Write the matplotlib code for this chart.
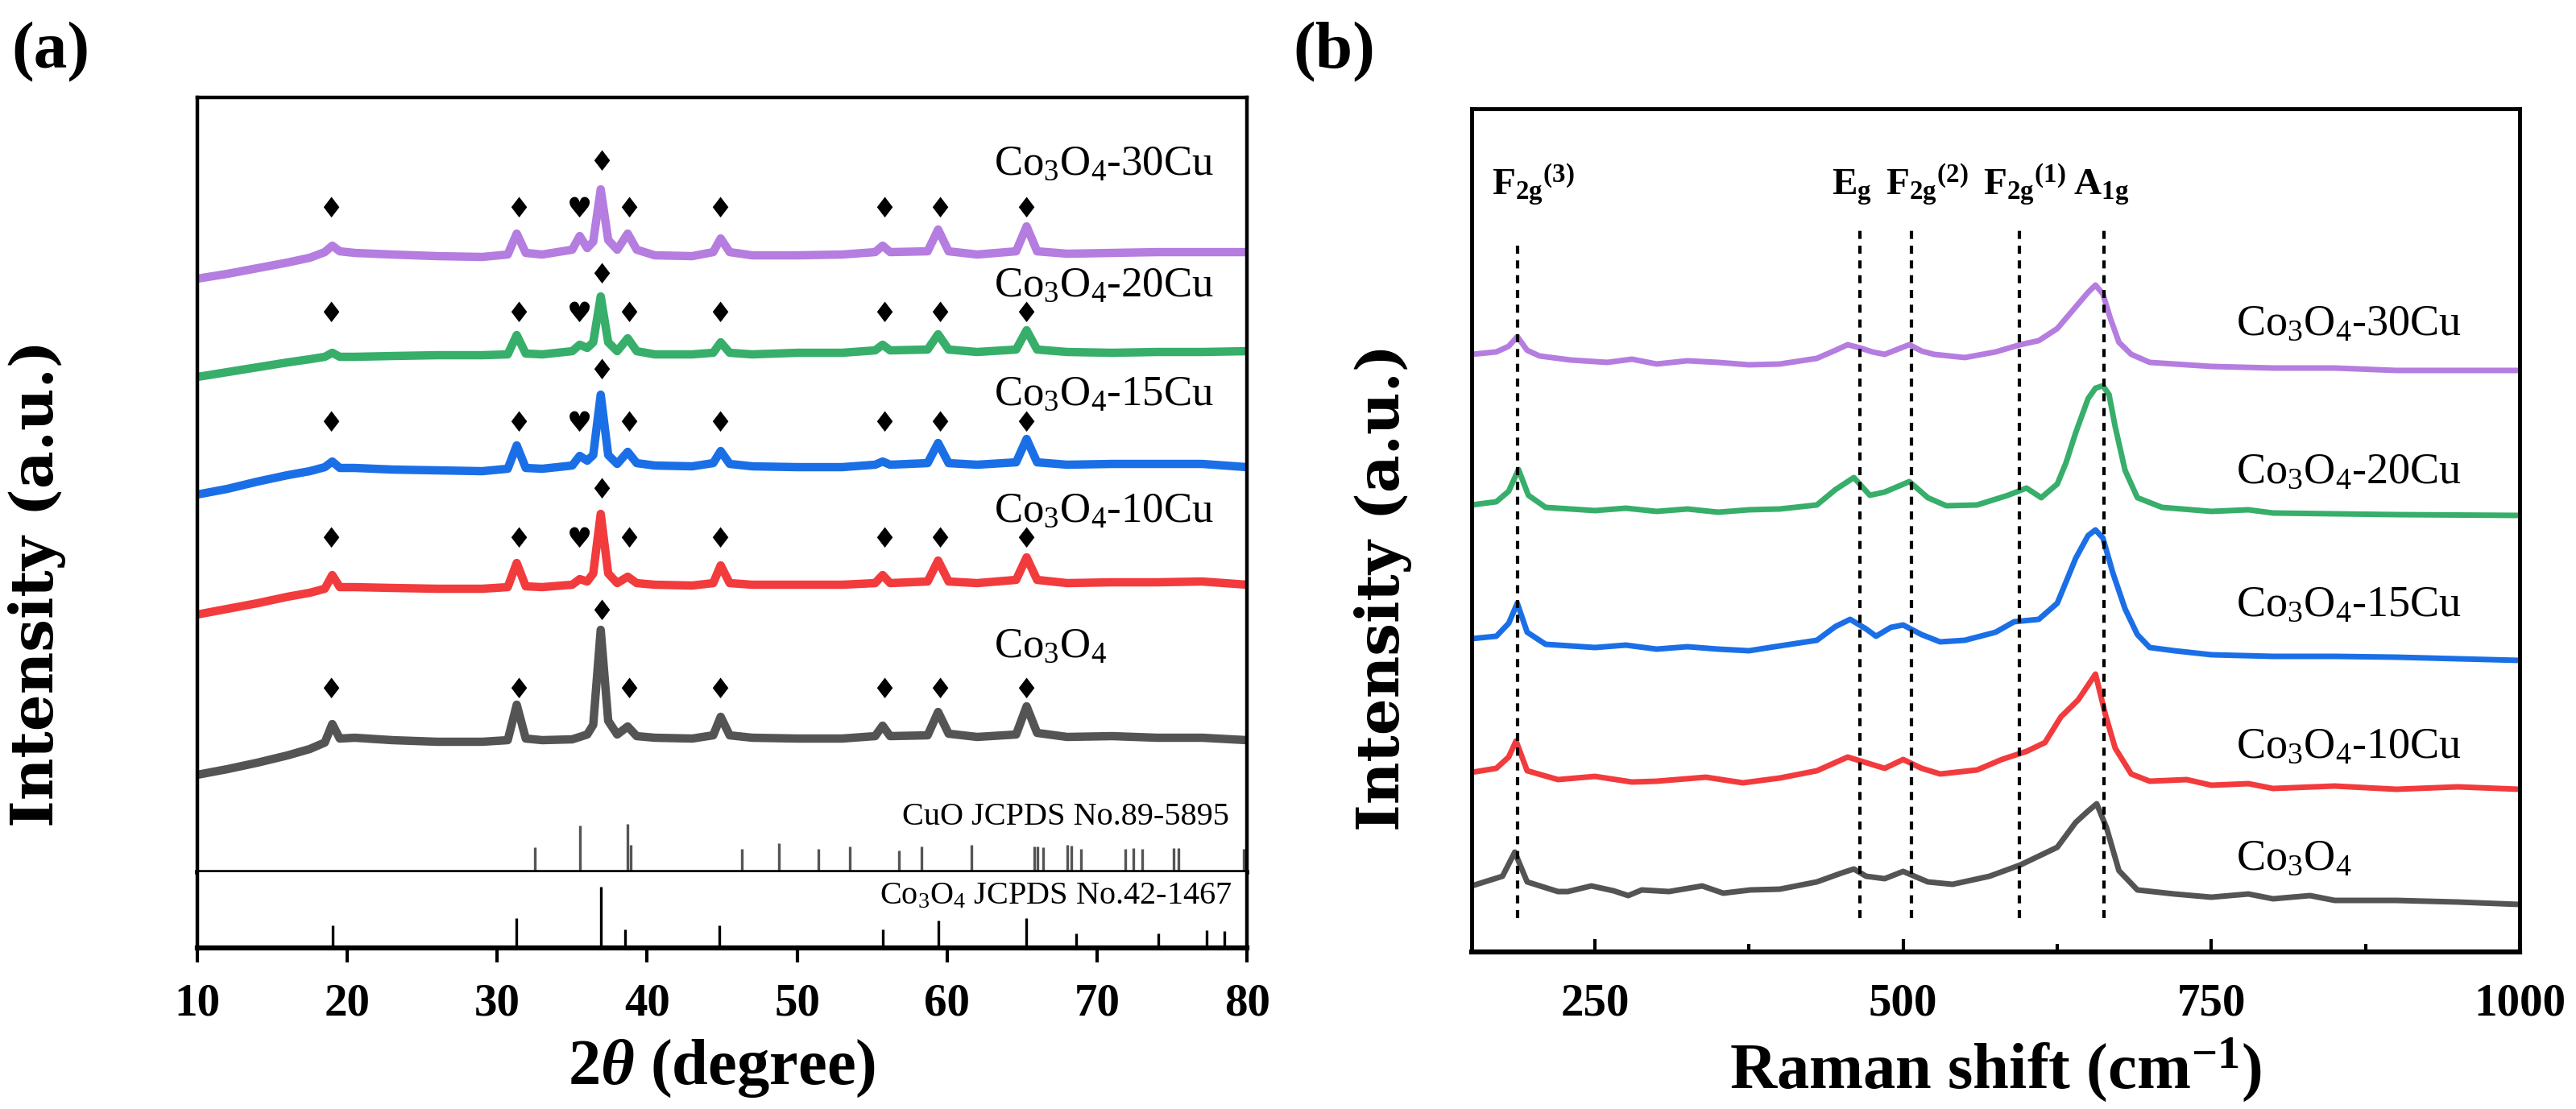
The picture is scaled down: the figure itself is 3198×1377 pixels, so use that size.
import matplotlib
matplotlib.use('Agg')
import matplotlib.pyplot as plt
from matplotlib.ticker import FixedLocator

# ---------------- (a) XRD ----------------
two_theta = [10, 12, 14, 16, 17.5, 18.5, 19.0, 19.5, 20.5, 23, 26, 29, 30.7, 31.3, 31.9, 33,
             35.0, 35.5, 36.0, 36.4, 36.9, 37.4, 38.0, 38.7, 39.3, 40.5, 43, 44.4, 44.9, 45.5,
             47, 50, 53, 55.2, 55.7, 56.2, 58.7, 59.4, 60.1, 62, 64.6, 65.3, 66.0, 68, 71, 74, 77, 80]

xrd_co3o4 = [121, 128, 136, 145, 153, 161, 184, 166, 167, 164, 162, 162, 164, 208, 166, 164,
             165, 168, 171, 183, 301, 188, 171, 181, 169, 167, 166, 170, 193, 170,
             167, 166, 166, 169, 182, 169, 170, 199, 172, 168, 171, 206, 173, 168, 169, 167, 167, 164]
xrd_10cu = [320, 327, 334, 342, 347, 352, 369, 354, 354, 353, 352, 352, 354, 384, 355, 354,
            357, 364, 361, 371, 445, 371, 359, 367, 359, 357, 356, 359, 381, 359,
            357, 357, 357, 359, 369, 359, 361, 387, 361, 359, 363, 391, 363, 359, 360, 360, 361, 357]
xrd_15cu = [469, 476, 485, 493, 498, 503, 510, 502, 502, 500, 499, 498, 501, 530, 502, 501,
            505, 517, 511, 518, 593, 518, 507, 522, 508, 505, 504, 508, 523, 507,
            504, 503, 503, 506, 510, 506, 508, 533, 508, 506, 509, 538, 509, 506, 507, 507, 507, 503]
xrd_20cu = [615, 621, 627, 633, 637, 640, 645, 640, 640, 641, 642, 642, 643, 667, 644, 643,
            647, 655, 651, 658, 715, 658, 647, 663, 647, 643, 643, 645, 658, 645,
            643, 645, 645, 648, 655, 648, 649, 668, 649, 646, 649, 673, 649, 646, 645, 646, 646, 647]
xrd_30cu = [737, 743, 750, 757, 763, 770, 778, 771, 769, 767, 765, 764, 767, 793, 769, 767,
            773, 790, 775, 783, 848, 785, 773, 793, 773, 766, 765, 770, 787, 770,
            766, 766, 767, 770, 778, 770, 771, 798, 771, 767, 771, 802, 771, 768, 769, 770, 770, 770]

sample_names = ['Co3O4', 'Co3O4-10Cu', 'Co3O4-15Cu', 'Co3O4-20Cu', 'Co3O4-30Cu']
sample_tex = [r'$\mathregular{Co_3O_4}$', r'$\mathregular{Co_3O_4}$-10Cu', r'$\mathregular{Co_3O_4}$-15Cu',
              r'$\mathregular{Co_3O_4}$-20Cu', r'$\mathregular{Co_3O_4}$-30Cu']
colors = ['#545454', '#f23b3d', '#1b6fe6', '#37ae6a', '#b47ddf']

xrd_label_y = [267, 435, 580, 715, 866]
marker_row_y = [226, 413, 557, 693, 823]
marker_top_y = [323, 474, 622, 741, 881]
diamond_pos = [18.9, 31.4, 38.8, 44.85, 55.8, 59.5, 65.25]
main_peak_pos = 36.95
heart_pos = 35.5

cuo_pos = [32.5, 35.5, 38.7, 38.9, 46.3, 48.8, 51.4, 53.5, 56.8, 58.3, 61.6, 65.8, 66.0, 66.4,
           68.0, 68.3, 68.9, 71.9, 72.4, 73.0, 75.1, 75.4, 79.8]
cuo_int = [31, 58, 60, 34, 29, 36, 29, 32, 27, 32, 34, 32, 32, 31,
           34, 33, 29, 29, 30, 29, 30, 30, 29]
co3o4_pos = [19.0, 31.25, 36.9, 38.5, 44.8, 55.7, 59.4, 65.3, 68.6, 74.1, 77.3, 78.5]
co3o4_int = [28, 37, 76, 23, 28, 23, 34, 37, 18, 18, 22, 21]

# ---------------- (b) Raman ----------------
raman_co3o4 = ([150, 175, 185, 195, 220, 228, 247, 265, 277, 288, 310, 337, 354, 376, 400, 430,
                450, 460, 470, 485, 500, 520, 540, 570, 595, 610, 625, 640, 650, 657, 665, 675,
                690, 720, 750, 780, 800, 830, 850, 900, 950, 1000],
               [82, 94, 124, 87, 75, 75, 82, 76, 70, 77, 75, 82, 73, 77, 78, 87,
                98, 103, 94, 91, 100, 87, 84, 94, 108, 119, 130, 161, 175, 184, 154, 101,
                77, 72, 68, 72, 66, 70, 64, 64, 62, 59])
raman_10cu = ([150, 170, 180, 186, 195, 220, 250, 280, 300, 340, 370, 400, 430, 455, 470, 485,
               500, 515, 530, 560, 580, 600, 615, 628, 642, 656, 664, 672, 685, 700, 730, 750,
               780, 800, 850, 900, 950, 1000],
              [223, 228, 242, 262, 225, 214, 218, 211, 212, 217, 210, 216, 225, 242, 235, 228,
               239, 228, 221, 226, 239, 249, 260, 292, 313, 345, 295, 253, 221, 212, 214, 207,
               209, 203, 206, 202, 205, 202])
raman_15cu = ([150, 170, 180, 187, 195, 210, 250, 275, 300, 325, 350, 375, 400, 430, 445, 457,
               470, 478, 490, 500, 515, 530, 550, 575, 590, 610, 625, 640, 650, 656, 662, 670,
               680, 690, 700, 720, 750, 800, 850, 900, 950, 1000],
              [389, 392, 408, 433, 397, 382, 378, 381, 376, 379, 376, 374, 380, 387, 404, 413,
               401, 392, 403, 406, 394, 385, 387, 397, 410, 413, 433, 489, 517, 524, 514, 471,
               426, 394, 378, 374, 369, 367, 367, 366, 364, 362])
raman_20cu = ([150, 170, 180, 188, 196, 210, 250, 275, 300, 325, 350, 375, 400, 430, 445, 460,
               473, 485, 505, 520, 535, 560, 585, 600, 612, 625, 632, 640, 650, 656, 662, 667,
               672, 680, 690, 710, 750, 780, 800, 850, 900, 1000],
              [555, 559, 572, 599, 567, 552, 548, 551, 547, 550, 546, 549, 550, 555, 574, 589,
               567, 571, 584, 564, 554, 555, 567, 576, 564, 581, 607, 645, 687, 700, 703, 692,
               652, 598, 564, 552, 547, 549, 545, 544, 543, 542])
raman_30cu = ([150, 170, 180, 187, 195, 205, 230, 260, 280, 300, 325, 350, 375, 400, 430, 445,
               455, 465, 475, 485, 495, 505, 515, 525, 550, 575, 595, 610, 625, 640, 650, 656,
               662, 668, 675, 685, 700, 750, 800, 850, 900, 950, 1000],
              [742, 745, 752, 764, 747, 740, 735, 732, 736, 730, 734, 732, 729, 730, 737, 747,
               754, 750, 745, 742, 748, 754, 746, 742, 738, 745, 754, 759, 774, 801, 819, 828,
               817, 787, 757, 742, 732, 727, 725, 725, 722, 722, 722])

raman_label_y = [103, 242, 417, 582, 766]
raman_label_x = 770
mode_pos = [187, 465, 507, 594, 663]
mode_tex = [r'$\mathregular{F_{2g}{}^{(3)}}$', r'$\mathregular{E_g}$', r'$\mathregular{F_{2g}{}^{(2)}}$',
            r'$\mathregular{F_{2g}{}^{(1)}}$', r'$\mathregular{A_{1g}}$']
mode_label_x = [166, 442, 486, 565, 638]
mode_line_top = [877, 899, 899, 899, 899]


def main():
    plt.rcParams['font.family'] = 'Liberation Serif'
    plt.rcParams['mathtext.fontset'] = 'custom'
    plt.rcParams['mathtext.rm'] = 'Liberation Serif'
    plt.rcParams['mathtext.it'] = 'Liberation Serif:italic'
    plt.rcParams['mathtext.bf'] = 'Liberation Serif:bold'
    plt.rcParams['mathtext.bfit'] = 'Liberation Serif:bold:italic'

    fig = plt.figure(figsize=(31.98, 13.77), dpi=100)

    # ----- panel (a) -----
    ax = fig.add_axes([0.0766, 0.2135, 0.4075, 0.6986])
    axb = fig.add_axes([0.0766, 0.1452, 0.4075, 0.0683])

    xrd = [xrd_co3o4, xrd_10cu, xrd_15cu, xrd_20cu, xrd_30cu]
    for i, y in enumerate(xrd):
        ax.plot(two_theta, y, color=colors[i], lw=7.5, solid_joinstyle='round')
        ax.text(63.1, xrd_label_y[i], sample_tex[i], fontsize=38, va='baseline', ha='left')
        for p in diamond_pos:
            ax.text(p, marker_row_y[i], '\u2666', family='DejaVu Sans', fontsize=25,
                    ha='center', va='center')
        ax.text(main_peak_pos, marker_top_y[i], '\u2666', family='DejaVu Sans', fontsize=25,
                ha='center', va='center')
        if i > 0:
            ax.text(heart_pos, marker_row_y[i], '\u2665', family='DejaVu Sans', fontsize=25,
                    ha='center', va='center')

    ax.vlines(cuo_pos, 0, cuo_int, color='#555555', lw=2.4)
    ax.text(78.8, 59, 'CuO JCPDS No.89-5895', fontsize=29, ha='right', va='baseline')
    ax.set_xlim(10, 80)
    ax.set_ylim(0, 962)
    ax.set_xticks([])
    ax.set_yticks([])
    for s in ['left', 'right', 'top']:
        ax.spines[s].set_linewidth(3.2)
    ax.spines['bottom'].set_linewidth(4)
    ax.set_ylabel('Intensity (a.u.)', family='DejaVu Serif', fontweight='bold', fontsize=52)
    ax.yaxis.set_label_coords(-0.125, 0.373)

    axb.vlines(co3o4_pos, 0, co3o4_int, color='black', lw=2.4)
    axb.text(79.0, 55, r'$\mathregular{Co_3O_4}$ JCPDS No.42-1467', fontsize=29, ha='right', va='baseline')
    axb.set_xlim(10, 80)
    axb.set_ylim(0, 94)
    axb.set_yticks([])
    axb.spines['top'].set_visible(False)
    axb.spines['left'].set_linewidth(3.2)
    axb.spines['right'].set_linewidth(3.2)
    axb.spines['bottom'].set_linewidth(4.5)
    axb.xaxis.set_major_locator(FixedLocator([10, 20, 30, 40, 50, 60, 70, 80]))
    axb.tick_params(axis='x', direction='out', length=13, width=3, pad=18, labelsize=41)
    for lab in axb.get_xticklabels():
        lab.set_fontweight('bold')
    axb.set_xlabel(r'$\mathbf{2}\mathbfit{\theta}$ (degree)', fontsize=58, fontweight='bold', labelpad=12)

    # ----- panel (b) -----
    ar = fig.add_axes([0.5713, 0.1416, 0.4068, 0.7604])
    raman = [raman_co3o4, raman_10cu, raman_15cu, raman_20cu, raman_30cu]
    for i, (x, y) in enumerate(raman):
        ar.plot(x, y, color=colors[i], lw=5, solid_joinstyle='round')
        ar.text(raman_label_x, raman_label_y[i], sample_tex[i], fontsize=39, va='baseline', ha='left')

    for i, p in enumerate(mode_pos):
        ar.vlines(p, 42, mode_line_top[i], color='black', lw=3, linestyles=(0, (2.4, 2.0)))
        ar.text(mode_label_x[i], 940, mode_tex[i], fontsize=34, fontweight='bold',
                ha='left', va='baseline')

    ar.set_xlim(150, 1000)
    ar.set_ylim(0, 1047)
    ar.set_yticks([])
    ar.xaxis.set_major_locator(FixedLocator([250, 500, 750, 1000]))
    ar.xaxis.set_minor_locator(FixedLocator([375, 625, 875]))
    ar.tick_params(axis='x', which='major', direction='in', length=11.5, width=3, pad=28, labelsize=41)
    ar.tick_params(axis='x', which='minor', direction='in', length=7, width=3)
    for lab in ar.get_xticklabels():
        lab.set_fontweight('bold')
    for s in ['left', 'right', 'top']:
        ar.spines[s].set_linewidth(3.5)
    ar.spines['bottom'].set_linewidth(4.5)
    ar.set_xlabel(r'Raman shift (cm$^{\mathregular{-1}}$)', fontsize=58, fontweight='bold', labelpad=10)
    ar.set_ylabel('Intensity (a.u.)', family='DejaVu Serif', fontweight='bold', fontsize=52)
    ar.yaxis.set_label_coords(-0.057, 0.432)

    fig.text(0.0045, 0.980, '(a)', fontsize=60, fontweight='bold', va='top', ha='left')
    fig.text(0.502, 0.980, '(b)', fontsize=60, fontweight='bold', va='top', ha='left')

    fig.savefig('out.png', dpi=100)


if __name__ == '__main__':
    main()
